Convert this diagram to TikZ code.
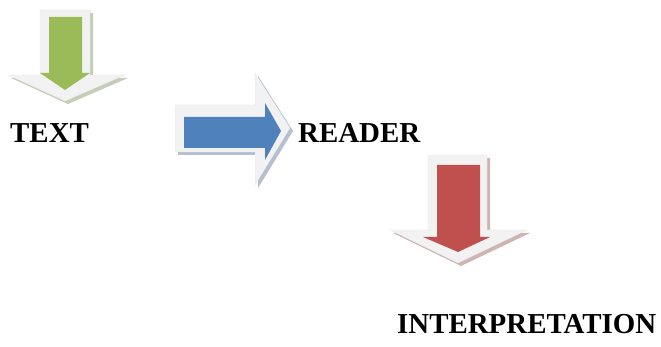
\documentclass[tikz,border=0pt]{standalone}
\usepackage{fontspec}
\setmainfont{Liberation Serif}
\definecolor{gcol}{HTML}{9BBB59}
\definecolor{bcol}{HTML}{4F81BD}
\definecolor{rcol}{HTML}{C0504D}
\definecolor{glow}{HTML}{F2F2F2}
\begin{document}
\begin{tikzpicture}[x=1pt,y=-1pt,
  lbl/.style={anchor=base west,inner sep=0pt,font=\fontsize{28.9}{30}\selectfont\bfseries},
  glowshape/.style={fill=glow,draw=glow!90!gray,line width=0.2pt},
  shadowshape/.style={fill=#1!45!gray!50!white}]
\useasboundingbox (0,0) rectangle (661,347);
% ---------- green down arrow ----------
\fill[shadowshape=gcol] (43,13) -- (93,13) -- (93,78) -- (128,78) -- (68,104) -- (11,78) -- (43,78) -- cycle;
\path[glowshape] (40,10) -- (90,10) -- (90,75) -- (125,75) -- (65,101) -- (8,75) -- (40,75) -- cycle;
\fill[gcol] (49,17) -- (82,17) -- (82,73) -- (90,73) -- (65,90) -- (40,73) -- (49,73) -- cycle;
% ---------- blue right arrow ----------
\fill[shadowshape=bcol] (178,108) -- (258,108) -- (258,76) -- (293,131) -- (258,188) -- (258,155) -- (178,155) -- cycle;
\path[glowshape] (175,105) -- (255,105) -- (255,73) -- (290,128) -- (255,185) -- (255,152) -- (175,152) -- cycle;
\fill[bcol] (184,117) -- (265,117) -- (265,103) -- (281,131) -- (265,160) -- (265,148) -- (184,148) -- cycle;
% ---------- red down arrow ----------
\fill[shadowshape=rcol] (431,158) -- (490,158) -- (490,233) -- (530,233) -- (461,266) -- (393,233) -- (431,233) -- cycle;
\path[glowshape] (428,155) -- (487,155) -- (487,230) -- (527,230) -- (458,263) -- (390,230) -- (428,230) -- cycle;
\fill[rcol] (437,165) -- (480,165) -- (480,237) -- (490,237) -- (458,252) -- (423,237) -- (437,237) -- cycle;
% ---------- labels ----------
\node[lbl] (text) at (10,143) {TEXT};
\node[lbl] (reader) at (298,143) {READER};
\node[lbl] (interp) at (397,333) {INTERPRETATION};
\end{tikzpicture}
\end{document}
